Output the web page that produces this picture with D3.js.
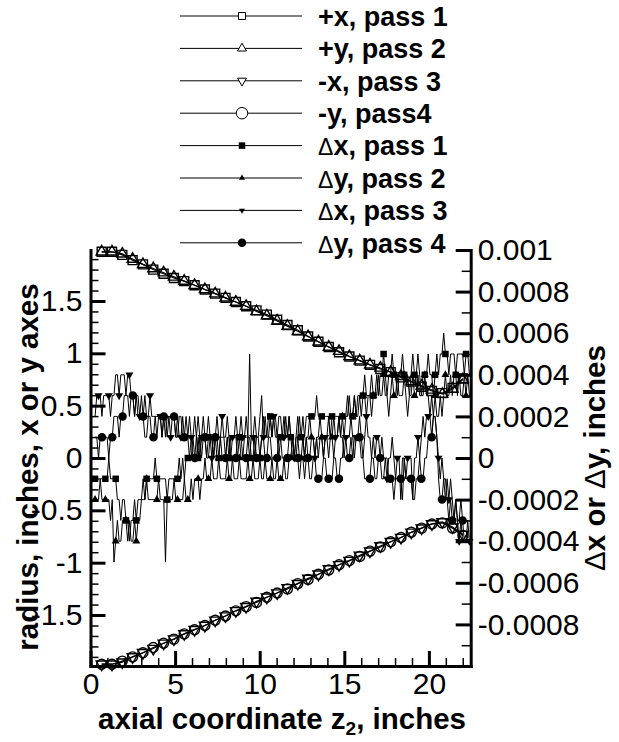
<!DOCTYPE html>
<html>
<head>
<meta charset="utf-8">
<script src="https://cdn.jsdelivr.net/npm/d3@7"></script>
<style>
    body { margin: 0; background: #fff; }
</style>
</head>
<body>
<svg id="chart" width="619" height="742"></svg>
<script>
// radius samples, inches (left axis)
var zRadius = [0.66, 1.27, 1.88, 2.49, 3.1, 3.71, 4.32, 4.93, 5.54, 6.15, 6.76, 7.37, 7.98, 8.59, 9.2, 9.81, 10.42, 11.03,
    11.64, 12.25, 12.86, 13.47, 14.08, 14.69, 15.3, 15.91, 16.52, 17.13, 17.74, 18.35, 18.96, 19.57, 20.18, 20.79, 21.4, 22.01]
var plusXPass1 = [1.97, 1.97, 1.94, 1.89, 1.85, 1.80, 1.76, 1.72, 1.69, 1.65, 1.61, 1.57, 1.53, 1.49, 1.45, 1.41, 1.37, 1.32,
    1.27, 1.22, 1.16, 1.11, 1.06, 1.01, 0.97, 0.93, 0.89, 0.85, 0.82, 0.77, 0.73, 0.68, 0.64, 0.62, 0.67, 0.76]
var plusYPass2 = [1.97, 1.97, 1.95, 1.90, 1.85, 1.81, 1.77, 1.73, 1.69, 1.65, 1.61, 1.57, 1.53, 1.49, 1.45, 1.40, 1.36, 1.31,
    1.26, 1.21, 1.16, 1.11, 1.06, 1.02, 0.97, 0.93, 0.89, 0.86, 0.82, 0.78, 0.73, 0.69, 0.65, 0.61, 0.66, 0.75]
var minusXPass3 = [-1.97, -1.97, -1.95, -1.90, -1.86, -1.82, -1.77, -1.73, -1.68, -1.64, -1.60, -1.55, -1.51, -1.46, -1.42, -1.37, -1.33, -1.29,
    -1.24, -1.20, -1.15, -1.11, -1.06, -1.02, -0.98, -0.93, -0.89, -0.84, -0.80, -0.76, -0.71, -0.67, -0.63, -0.61, -0.66, -0.73]
var minusYPass4 = [-1.97, -1.97, -1.94, -1.90, -1.86, -1.81, -1.77, -1.73, -1.68, -1.64, -1.60, -1.55, -1.51, -1.46, -1.42, -1.38, -1.33, -1.29,
    -1.25, -1.20, -1.16, -1.11, -1.07, -1.02, -0.98, -0.94, -0.89, -0.85, -0.80, -0.76, -0.71, -0.67, -0.63, -0.62, -0.67, -0.74]

// deviation samples in units of 0.0001 inch (right axis), one every 0.1015 in from z = 0.27
var zDeltaStart = 0.27
var zDeltaStep = 0.1015
var dxPass1 = [-1, -1, -1, -1, -1, -1, -1, -1, 0, -1, -1, -1,
    -1, -2, -2, -3, -2,
    -2, -3, -3, -4, -3, -3, -2, -3, -2, -2,
    -2, -1, -2,
    -1, -1, -1, -1, -1, 0, -1, -1, -1, -1, -1, -1, -2, -1, -1, -1, -1, -1, -1, 0, -1,
    0, -1, 0, 0, 0, 1, 0, 0, 1, 0,
    1, 0, 1, 1, 0, 1, 1, 1, 0, 1, 1, 0, 1, 1, 1, 0, 1, 0, 1, 1, 1, 1, 0, 1, 1, 0, 1, 1, 1, 0, 1, 1, 2, 1, 1, 0, 1, 2, 1, 1, 1,
    2, 1, 2, 1, 1, 0, 1, 1, 2, 1, 1, 2, 1, 1, 0, 1, 2, 1, 1, 2, 1,
    2, 2, 2, 2, 2, 2, 3, 2, 2, 2, 2, 2, 2, 2, 1, 2, 2, 2, 2, 2, 2, 2, 2, 2, 3, 2, 2, 2,
    3, 2, 3, 3, 3, 3, 4, 3, 3, 3, 2, 3, 3, 4, 3,
    4, 4, 5, 4, 3, 4, 4, 5, 4, 4, 3, 4, 4, 5, 4, 4, 4, 3, 4, 5, 4, 4, 5, 4, 3, 4, 4, 4, 5, 4, 4, 3, 4,
    5, 4, 5, 5, 6, 5, 5, 4, 5, 5, 5, 4, 5, 5, 5, 5, 4, 5, 5,
    4]
var dyPass2 = [-2, -2, -2, -1, -2, -2, -2, -2, -2, -3, -2, -5,
    -4, -3, -4, -4, -3, -3, -3, -4, -3, -4, -4, -3, -4, -3, -3,
    -2, -2, -2, -1, -2, -2, -2, -2, -2, -2, -1, -2, -2, -2, -5, -2, -2, -2, -2, -1,
    -2, -2, -2, -2, -2, -1, -2, -2, -2, -1, -2, -1, -1,
    -1, -2, -1, -1, 0, -1, -1, -1, 0, -1, -1, -1, 0, -1, -1, -1, -1, 0, -1, -1,
    0, -1, -1, -1, 0, -1, -1, -1, -1, 0, -1, -1, 0, -1, -1, -1, 0, -1, -1, 0,
    -1, -1, -1, 0, -1, -1, 0, -1, -1, -1, 0, -1, -1,
    0, 0, 1, 0, 0, 1, 0, 0, 1, 0, 1, 0, 0, 1, 1, 0, 1, 0, 1, 1, 0, 1, 1, 0, 1, 1, 2, 1, 1, 2, 1,
    2, 1, 2, 2, 3, 2, 2, 3, 2, 2, 3, 2, 3, 3, 2, 3, 3, 4, 3, 3, 3, 4,
    3, 3, 4, 3, 3, 2, 3, 4, 3, 3, 4, 3, 3, 3, 4, 3, 2, 3, 3, 4, 3, 3, 4, 3, 3, 3, 4, 3, 3, 2, 3,
    2, 3, 2, 2, 3, 2, 3, 4, 3,
    3, 4, 3, 4, 4, 3, 4, 3, 3, 4, 3, 4, 3]
var dxPass3 = [2, 3, 3, 3, 2, 3, 3, 3, 3, 2, 3, 3,
    4, 4, 3, 4, 4, 4, 3, 4, 4,
    3, 3, 2, 3, 3, 2, 3, 2, 3, 2, 2, 3, 2, 2, 2,
    1, 2, 2, 1, 2, 1, 2, 2, 1, 2, 2, 1, 2, 1, 1, 2, 1, 2, 1, 2,
    1, 1, 2, 1, 2, 1, 1, 2, 1, 1, 2, 1, 0, 1, 1, 2, 1, 1, 2, 1,
    1, 2, 1, 0, 1, 1, 2, 1, 1, 2, 1, 1, 2, 1, 5, 1, 1, 0, 1, 1,
    2, 3, 1, 2, 1, 2, 2, 1, 2, 2, 1, 2, 2, 1, 1, 2, 1, 2, 1, 1,
    0, 1, 1, 2, 1, 1, 0, 1, 1, 2, 1, 1, 0, 1, 1, 2, 1, 0, 1, 1,
    2, 1, 1, 0, 1, 1, 2, 1, 1, 0, 1, 1, 1, 2, 1, 0, 1, 1, 2, 1,
    0, 1, 2, 1, 1, 0, 1, 0, 1, 1,
    0, 1, 0, 0, -1, 0, 0, 1, 0, -1, 0, 0, -2, 0, 0, -1, 0, 0, 0, -2, 0, 0, 1, 0, 1,
    2, 1, 2, 2, 2, 1, 2, 2, 1, 0,
    -1, 0, -1, -2, -1, -2, -1, -2, -3, -2, -3, -4, -3, -4, -4, -4, -4, -4]
var dyPass4 = [1, 1, 0, 1, 1, 1, 1, 1, 0, 1,
    1, 2, 2, 2, 1, 2, 2, 3, 3, 3,
    2, 3, 3, 2, 3, 2, 2, 2, 2, 1,
    1, 2, 2, 1, 1, 2, 2, 2, 2, 1,
    2, 2, 1, 2, 2, 2, 2, 1, 1, 2,
    2, 1, 1, 1, 1, 0, 0, 1, 0, 0,
    1, 0, 1, 1, 1, 0, 0, 1, 1, 0,
    1, 0, 0, 1, 0, 0, 0, 1, 1, 0,
    0, 0, 0, 1, 1, 0, 0, 0, 0, 1,
    1, 0, 0, 1, 0, 0, 0, 1, 1, 0,
    0, 1, 1, 0, 0, 0, 0, 1, 1, 0,
    0, 0, 0, 1, 1, 0, 0, 0, 0, -1,
    0, 0, -1, 0, 0, -1, -1, 0, 0, -1,
    -1, -1, -1, 0, 0, -1, -1, -1, -1, 0,
    0, -1, -1, 0, 0, 1, 1, 0, 0, 1,
    0, 1, 1, 1, 1, 0, 0, -1, -1, -1,
    -1, 0, 0, -1, -1, 0, 0, -1, -1, 0,
    0, -1, -1, -1, -2, -1, -1, -1, -1, -2,
    0, -1, -1, -1, -1, -2, -2, -1, -1, 0,
    -1, -1, 0, 0, 1, 1, 1, 2, 2, 1,
    -1, -2, -2, -1, -1, -2, -3, -2, -3, -3,
    -2, -3, -3, -2, -3, -4, -4, -3, -4]

var legendLabels = ["+x, pass 1", "+y, pass 2", "-x, pass 3", "-y, pass4",
    "\u0394x, pass 1", "\u0394y, pass 2", "\u0394x, pass 3", "\u0394y, pass 4"]
var xTicks = [0, 5, 10, 15, 20]
var yLeftTicks = [-1.5, -1, -0.5, 0, 0.5, 1, 1.5]
var yRightTicks = [-0.0008, -0.0006, -0.0004, -0.0002, 0, 0.0002, 0.0004, 0.0006, 0.0008, 0.001]

function symbol_path(type, s) {
    var h = s / 2
    if (type == "square") return "M" + (-h) + "," + (-h) + "h" + s + "v" + s + "h" + (-s) + "Z"
    if (type == "circle") return "M" + h + ",0A" + h + "," + h + " 0 1,1 " + (-h) + ",0A" + h + "," + h + " 0 1,1 " + h + ",0Z"
    var t = s * 0.577, b = s * 0.289
    if (type == "up") return "M0," + (-t) + "L" + h + "," + b + "L" + (-h) + "," + b + "Z"
    return "M0," + t + "L" + h + "," + (-b) + "L" + (-h) + "," + (-b) + "Z"
}

class profile_chart {
    constructor(svg_id) {
        this.width = 619
        this.height = 742
        this.font = '"Liberation Sans", Arial, Helvetica, sans-serif'
        this.svg = d3.select(svg_id).attr("viewBox", [0, 0, this.width, this.height])
        this.left = 90.5
        this.right = 470.7
        this.top = 250
        this.bottom = 666
    }

    draw() {
        this.set_scales()
        this.draw_series()
        this.draw_axes()
        this.draw_legend()
        this.draw_titles()
    }

    set_scales() {
        this.x = d3.scaleLinear().domain([0, 22.47]).range([this.left, this.right])
        this.yLeft = d3.scaleLinear().domain([-1.987, 1.987]).range([this.bottom, this.top])
        this.yRight = d3.scaleLinear().domain([-0.001, 0.001]).range([this.bottom, this.top])
    }

    draw_axes() {
        var fmt = d => String(d)
        var style = g => {
            g.attr("font-family", this.font).attr("font-size", 30)
            g.selectAll(".domain").attr("stroke-width", 3).attr("stroke-linecap", "square")
            g.selectAll(".tick line").attr("stroke-width", 3)
            g.selectAll(".tick text").attr("fill", "#000")
        }
        var minor = g => {
            g.select(".domain").remove()
            g.selectAll(".tick line").attr("stroke-width", 1.5)
        }

        // minor ticks
        var leftMinor = d3.range(-19, 20).filter(k => k % 5 != 0).map(k => k / 10)
        var rightMinor = d3.range(-9, 10, 2).map(k => k / 10000)
        var bottomMinor = d3.range(1, 23).filter(k => k % 5 != 0)

        this.svg.append("g").attr("transform", "translate(" + this.left + ",0)")
            .call(d3.axisLeft(this.yLeft).tickValues(leftMinor).tickSize(-8).tickFormat("")).call(minor)
        this.svg.append("g").attr("transform", "translate(" + this.right + ",0)")
            .call(d3.axisRight(this.yRight).tickValues(rightMinor).tickSize(-9).tickFormat("")).call(minor)
        this.svg.append("g").attr("transform", "translate(0," + this.bottom + ")")
            .call(d3.axisBottom(this.x).tickValues(bottomMinor).tickSize(-8).tickFormat("")).call(minor)

        // major ticks and labels
        this.svg.append("g").attr("transform", "translate(" + this.left + ",0)")
            .call(d3.axisLeft(this.yLeft).tickValues(yLeftTicks).tickSize(-15).tickSizeOuter(0).tickPadding(8).tickFormat(fmt))
            .call(style)
        this.svg.append("g").attr("transform", "translate(" + this.right + ",0)")
            .call(d3.axisRight(this.yRight).tickValues(yRightTicks).tickSize(-15).tickSizeOuter(0).tickPadding(7).tickFormat(fmt))
            .call(style)
        this.svg.append("g").attr("transform", "translate(0," + this.bottom + ")")
            .call(d3.axisBottom(this.x).tickValues(xTicks).tickSize(-15).tickSizeOuter(0).tickPadding(7).tickFormat(fmt))
            .call(style)
    }

    draw_series() {
        var radius = [
            { values: plusXPass1, symbol: "square", size: 9 },
            { values: plusYPass2, symbol: "up", size: 11 },
            { values: minusXPass3, symbol: "down", size: 11 },
            { values: minusYPass4, symbol: "circle", size: 10 }
        ]
        var deltas = [
            { values: dxPass1, symbol: "square", size: 6.5, skip: 0 },
            { values: dyPass2, symbol: "up", size: 8, skip: 0 },
            { values: dxPass3, symbol: "down", size: 8, skip: 2 },
            { values: dyPass4, symbol: "circle", size: 8.5, skip: 4 }
        ]

        var g = this.svg.append("g")
        radius.forEach(s => {
            var pts = s.values.map((v, i) => [this.x(zRadius[i]), this.yLeft(v)])
            g.append("path").attr("d", d3.line()(pts))
                .attr("fill", "none").attr("stroke", "#000").attr("stroke-width", 1.2)
            g.selectAll(null).data(pts).join("path")
                .attr("transform", d => "translate(" + d[0] + "," + d[1] + ")")
                .attr("d", symbol_path(s.symbol, s.size))
                .attr("fill", "none").attr("stroke", "#000").attr("stroke-width", 1.4)
        })

        deltas.forEach(s => {
            var pts = s.values.map((v, i) => [this.x(zDeltaStart + zDeltaStep * i), this.yRight(v * 0.0001)])
            g.append("path").attr("d", d3.line()(pts))
                .attr("fill", "none").attr("stroke", "#000").attr("stroke-width", 1)
            g.selectAll(null).data(pts.filter((d, i) => i % 6 == s.skip)).join("path")
                .attr("transform", d => "translate(" + d[0] + "," + d[1] + ")")
                .attr("d", symbol_path(s.symbol, s.size))
                .attr("fill", "#000")
        })
    }

    draw_legend() {
        var symbols = ["square", "up", "down", "circle", "square", "up", "down", "circle"]
        var sizes = [7, 9, 9, 11.5, 6.5, 6, 6, 8.5]
        var rows = this.svg.append("g").selectAll("g")
            .data(legendLabels)
            .join("g")
            .attr("transform", (d, i) => "translate(0," + (16 + 32.4 * i) + ")")
        rows.append("line").attr("x1", 180).attr("x2", 302)
            .attr("stroke", "#000").attr("stroke-width", 1)
        rows.append("path")
            .attr("transform", "translate(242,0)")
            .attr("d", (d, i) => symbol_path(symbols[i], sizes[i]))
            .attr("fill", (d, i) => i < 4 ? "#fff" : "#000")
            .attr("stroke", "#000").attr("stroke-width", (d, i) => i < 4 ? 1 : 0)
        var txt = rows.append("text").attr("x", 318).attr("dy", "0.36em")
            .attr("font-family", this.font).attr("font-size", 27).attr("font-weight", "bold")
        txt.each(function (d) {
            var t = d3.select(this)
            if (d[0] == "\u0394") {
                t.append("tspan").attr("font-weight", "normal").attr("font-size", 23).text("\u0394")
                t.append("tspan").text(d.slice(1))
            } else {
                t.text(d)
            }
        })
    }

    draw_titles() {
        this.svg.append("text")
            .attr("transform", "translate(38,467) rotate(-90)")
            .attr("text-anchor", "middle")
            .attr("font-family", this.font).attr("font-size", 29.5).attr("font-weight", "bold")
            .text("radius, inches, x or y axes")

        var r = this.svg.append("text")
            .attr("transform", "translate(605,458) rotate(-90)")
            .attr("text-anchor", "middle")
            .attr("font-family", this.font).attr("font-size", 29.5).attr("font-weight", "bold")
        r.append("tspan").attr("font-weight", "normal").text("\u0394")
        r.append("tspan").text("x or ")
        r.append("tspan").attr("font-weight", "normal").text("\u0394")
        r.append("tspan").text("y, inches")

        var b = this.svg.append("text")
            .attr("x", 282).attr("y", 729)
            .attr("text-anchor", "middle")
            .attr("font-family", this.font).attr("font-size", 29.5).attr("font-weight", "bold")
        b.append("tspan").text("axial coordinate z")
        b.append("tspan").attr("font-size", 19).attr("dy", 6).text("2")
        b.append("tspan").attr("dy", -6).text(", inches")
    }
}

var chart = new profile_chart("#chart")
chart.draw()
</script>
</body>
</html>
